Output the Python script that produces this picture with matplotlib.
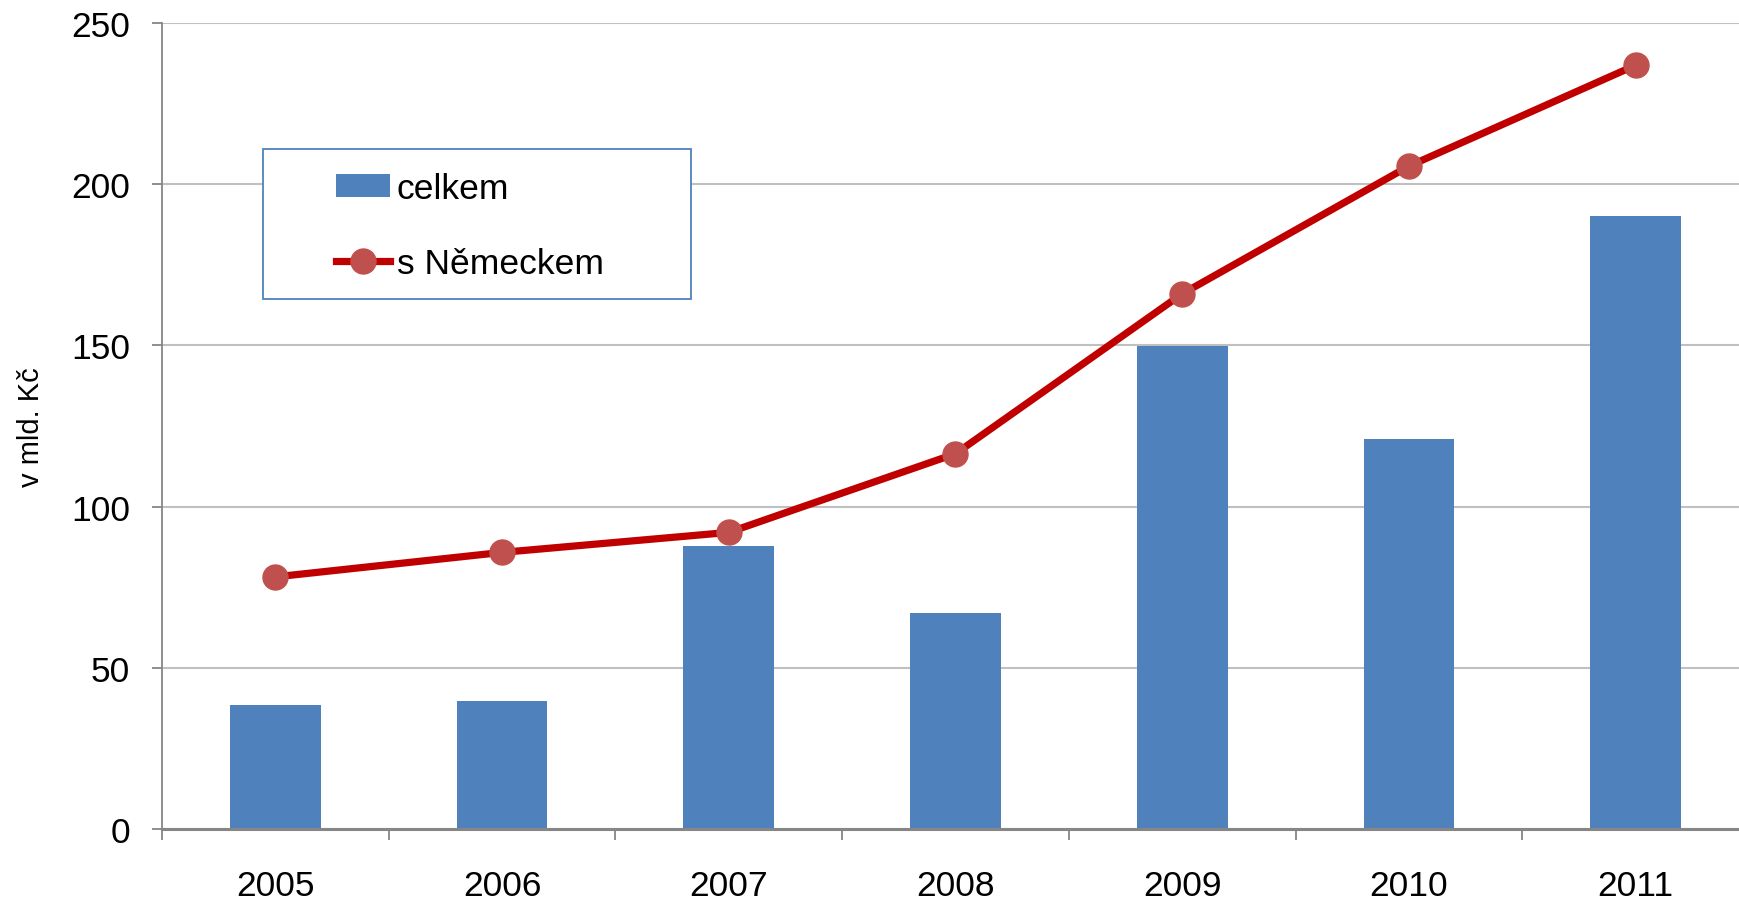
import matplotlib
matplotlib.use('Agg')  # no display
import matplotlib.pyplot as plt
from matplotlib.patches import Rectangle
from matplotlib.lines import Line2D

# data (bn CZK)
years = ['2005', '2006', '2007', '2008', '2009', '2010', '2011']
celkem = [38.6, 39.7, 87.8, 67.1, 149.8, 120.9, 190.1]
s_nemeckem = [78.2, 85.8, 92.0, 116.4, 166.0, 205.6, 236.9]
y_ticks = [0, 50, 100, 150, 200, 250]

BAR_COLOR = '#4F81BD'
LINE_COLOR = '#C00000'
MARKER_COLOR = '#C0504D'
AXIS_GRAY = '#868686'

plt.rcParams['font.family'] = ['Liberation Sans', 'DejaVu Sans']

fig = plt.figure(figsize=(17.4, 9.03), dpi=100)
ax = fig.add_axes([162 / 1740, 73 / 903, 1587 / 1740, 806 / 903])

x = list(range(len(years)))
ax.bar(x, celkem, width=0.40, color=BAR_COLOR, zorder=2)
ax.plot(x, s_nemeckem, color=LINE_COLOR, linewidth=5.2, marker='o',
        markersize=18, markerfacecolor=MARKER_COLOR, markeredgecolor=MARKER_COLOR,
        zorder=3)

ax.set_xlim(-0.5, len(years) - 0.5)
ax.set_ylim(0, 250)

# gridlines
ax.set_yticks(y_ticks)
ax.yaxis.grid(True, color='#C0C0C0', linewidth=1.5, zorder=0)
ax.set_axisbelow(True)

# spines
for side in ['top', 'right']:
    ax.spines[side].set_visible(False)
ax.spines['left'].set_color(AXIS_GRAY)
ax.spines['left'].set_linewidth(1.3)
ax.spines['bottom'].set_color(AXIS_GRAY)
ax.spines['bottom'].set_linewidth(2.2)

# ticks
ax.tick_params(axis='y', direction='out', length=7, width=1.3, color=AXIS_GRAY,
               labelsize=25.5, pad=16)
ax.set_xticks(x)
ax.set_xticklabels(years)
ax.set_xticks([i - 0.5 for i in range(len(years) + 1)], minor=True)
ax.tick_params(axis='x', which='major', length=0, labelsize=25.5, pad=29)
ax.tick_params(axis='x', which='minor', direction='out', length=8, width=1.3,
               color=AXIS_GRAY)

ax.set_ylabel('v mld. Kč', fontsize=21)
ax.yaxis.set_label_coords((45 - 162) / 1587, 0.5)

# legend with separate frame
frame = Rectangle(((263 - 162) / 1587, (830 - 300) / 806), 428 / 1587, 150 / 806,
                  transform=ax.transAxes, facecolor='white', edgecolor=BAR_COLOR,
                  linewidth=1.3, zorder=4)
ax.add_patch(frame)
handles = [
    Rectangle((0, 0), 1, 1, facecolor=BAR_COLOR, edgecolor='none'),
    Line2D([0], [0], color=LINE_COLOR, linewidth=5.2, marker='o', markersize=18,
           markerfacecolor=MARKER_COLOR, markeredgecolor=MARKER_COLOR),
]
leg = ax.legend(handles, ['celkem', 's Německem'], loc='center',
                bbox_to_anchor=((470 - 162) / 1587, (830 - 227) / 806),
                frameon=False, fontsize=25.5, labelspacing=1.2, handlelength=1.5,
                handletextpad=0.2, handleheight=0.6)
leg.set_zorder(5)

plt.savefig('out.png', dpi=100)
plt.close()
